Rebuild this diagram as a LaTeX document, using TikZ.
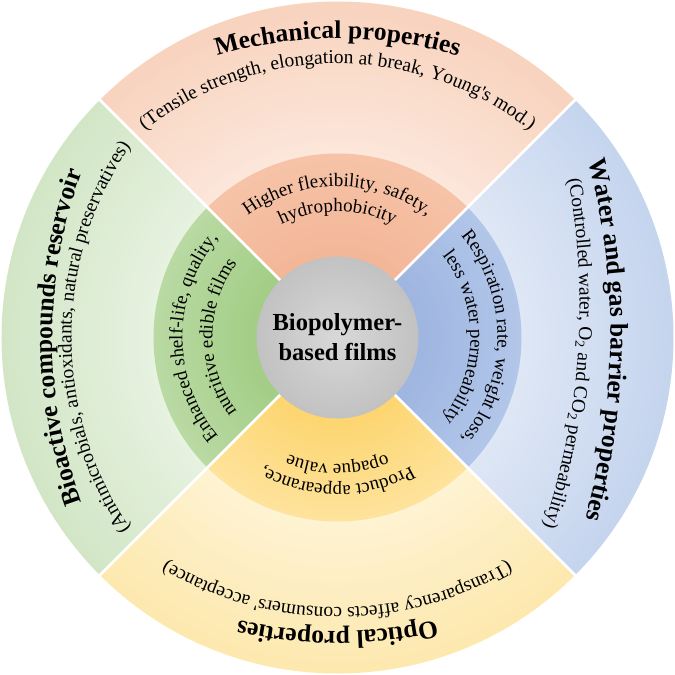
\documentclass[tikz,border=0pt]{standalone}
\usepackage{fontspec}
\setmainfont{Liberation Serif}
\newfontfamily\rawserif{Liberation Serif}
\usetikzlibrary{decorations.text,calc}

\definecolor{mechA}{HTML}{F3B697}
\definecolor{mechB}{HTML}{F6C3A8}
\definecolor{mechC}{HTML}{FCE7DB}
\definecolor{mechD}{HTML}{F8D3BE}
\definecolor{watA}{HTML}{9EB5E0}
\definecolor{watB}{HTML}{B2C6E9}
\definecolor{watC}{HTML}{DFE7F5}
\definecolor{watD}{HTML}{C5D5EE}
\definecolor{optA}{HTML}{FDD56F}
\definecolor{optB}{HTML}{FEE39C}
\definecolor{optC}{HTML}{FEF3D3}
\definecolor{optD}{HTML}{FDE8AE}
\definecolor{bioA}{HTML}{A2CD85}
\definecolor{bioB}{HTML}{B9DAA3}
\definecolor{bioC}{HTML}{E7F2E1}
\definecolor{bioD}{HTML}{D2E6C6}
\definecolor{cenA}{HTML}{D8D8D8}
\definecolor{cenB}{HTML}{C2C2C2}

\newcommand\ttlfont{\fontsize{25.5}{30}\selectfont\bfseries}
\newcommand\subfont{\fontsize{19.5}{23}\selectfont}
\newcommand\quotefont{\rawserif\fontsize{19.5}{23}\selectfont}
\newcommand\inrfont{\fontsize{19}{23}\selectfont}

% #1 start angle of the quadrant, #2..#5 colours: inner-centre, inner-edge, outer-inner, outer-edge
\newcommand\quadrant[5]{%
  \foreach \i in {0,...,40}{%
    \pgfmathsetmacro\rr{336-\i*152/40}%
    \pgfmathsetmacro\tt{100*\i/40}%
    \fill[#4!\tt!#5] (0,0) -- (#1:\rr) arc[start angle=#1, end angle=#1+90, radius=\rr] -- cycle;
  }
  \foreach \i in {0,...,25}{%
    \pgfmathsetmacro\rr{184-\i*103/25}%
    \pgfmathsetmacro\tt{100*\i/25}%
    \fill[#2!\tt!#3] (0,0) -- (#1:\rr) arc[start angle=#1, end angle=#1+90, radius=\rr] -- cycle;
  }
}

% #1 axis angle, #2 mid radius, #3 arc radius, #4 half span, #5 font, #6 text
\newcommand\arctext[6]{%
  \path[decorate, decoration={text along path, text align=center, text={|#5|#6}}]
    ($(#1:#2)-(#1:#3)+(#1+#4:#3)$) arc[start angle=#1+#4, end angle=#1-#4, radius=#3];
}

\begin{document}
\begin{tikzpicture}[x=1pt,y=1pt]
\useasboundingbox (-337.5,-337.5) rectangle (337.5,337.5);
\fill[white] (-337.5,-337.5) rectangle (337.5,337.5);

\quadrant{45}{mechA}{mechB}{mechC}{mechD}
\quadrant{-45}{watA}{watB}{watC}{watD}
\quadrant{225}{optA}{optB}{optC}{optD}
\quadrant{135}{bioA}{bioB}{bioC}{bioD}

\draw[white, line width=2.5] (45:337) -- (225:337);
\draw[white, line width=2.5] (135:337) -- (315:337);

% centre disc
\foreach \i in {0,...,30}{%
  \pgfmathsetmacro\rr{81-\i*81/31}%
  \pgfmathsetmacro\tt{100*\i/30}%
  \fill[cenA!\tt!cenB] (0,0) circle[radius=\rr];
}
\node (hub) [circle, minimum size=162, inner sep=0, align=center,
  font=\fontsize{24.5}{30}\selectfont\bfseries] at (0,0) {Biopolymer-\\based films};

% outer texts
\arctext{90}{299}{420}{30}{\ttlfont}{Mechanical properties}
\arctext{90}{274}{310}{50}{\subfont}{(Tensile strength, elongation at break, Young|\quotefont|'|\subfont|s mod.)}
\arctext{-0.5}{273}{700}{20}{\ttlfont}{Water and gas barrier properties}
\arctext{-4}{241}{700}{22}{\subfont}{(Controlled water, O{\textsubscript{2}} and CO{\textsubscript{2}} permeability)}
\arctext{270}{294}{450}{28}{\ttlfont}{Optical properties}
\arctext{270}{270}{340}{45}{\subfont}{(Transparency affects consumers|\quotefont|'|\subfont| acceptance)}
\arctext{180}{285}{480}{26}{\ttlfont}{Bioactive compounds reservoir}
\arctext{180}{266}{340}{45}{\subfont}{(Antimicrobials, antioxidants, natural preservatives)}

% inner texts
\arctext{90}{151}{151}{85}{\inrfont}{Higher flexibility, safety,}
\arctext{90}{126}{126}{85}{\inrfont}{hydrophobicity}
\arctext{0}{160}{160}{85}{\inrfont}{Respiration rate, weight loss,}
\arctext{0}{133}{133}{85}{\inrfont}{less water permeability}
\arctext{270}{148}{148}{85}{\inrfont}{Product appearance,}
\arctext{270}{127}{127}{85}{\inrfont}{opaque value}
\arctext{180}{155}{155}{85}{\inrfont}{Enhanced shelf-life, quality,}
\arctext{180}{125}{125}{85}{\inrfont}{nutritive edible films}
\end{tikzpicture}
\end{document}
